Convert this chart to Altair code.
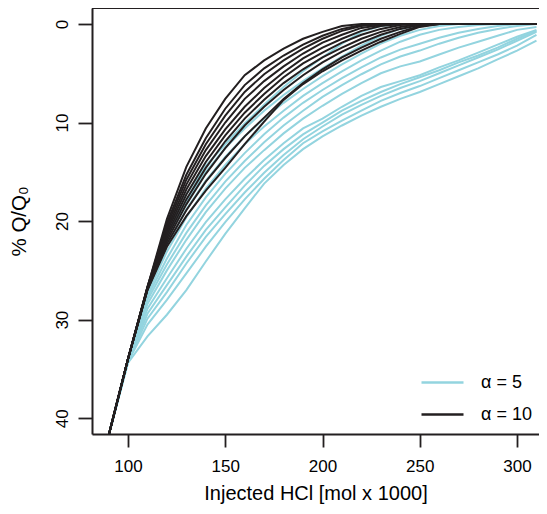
import altair as alt
import pandas as pd

# ---- data ----
x_grid = [90, 100, 110, 120, 130, 140, 150, 160, 170, 180, 190, 200,
          210, 220, 230, 240, 250, 260, 270, 280, 290, 300, 310]

black_curves = [
    [41.8, 34.0, 26.7, 19.8, 14.5, 10.6, 7.6, 5.2, 3.7, 2.5, 1.5, 0.8, 0.2, 0, 0, 0, 0, 0, 0, 0, 0, 0, 0],
    [41.8, 34.0, 26.7, 20.2, 15.3, 11.6, 8.6, 6.2, 4.5, 3.2, 2.1, 1.2, 0.5, 0.1, 0, 0, 0, 0, 0, 0, 0, 0, 0],
    [41.8, 34.0, 26.7, 20.5, 15.8, 12.2, 9.3, 6.9, 5.1, 3.7, 2.5, 1.5, 0.7, 0.2, 0, 0, 0, 0, 0, 0, 0, 0, 0],
    [41.8, 34.0, 26.8, 20.8, 16.3, 12.8, 10.0, 7.6, 5.8, 4.3, 3.0, 1.9, 1.1, 0.4, 0.1, 0, 0, 0, 0, 0, 0, 0, 0],
    [41.8, 34.0, 26.8, 21.1, 16.8, 13.4, 10.7, 8.4, 6.5, 4.9, 3.5, 2.4, 1.5, 0.7, 0.2, 0, 0, 0, 0, 0, 0, 0, 0],
    [41.8, 34.0, 26.8, 21.4, 17.3, 14.0, 11.3, 9.0, 7.1, 5.4, 4.0, 2.9, 1.9, 1.1, 0.5, 0.1, 0, 0, 0, 0, 0, 0, 0],
    [41.8, 34.0, 26.9, 21.7, 17.8, 14.6, 11.9, 9.6, 7.7, 6.0, 4.6, 3.4, 2.4, 1.5, 0.8, 0.3, 0, 0, 0, 0, 0, 0, 0],
    [41.8, 34.0, 26.9, 22.0, 18.3, 15.2, 12.6, 10.3, 8.4, 6.7, 5.2, 3.9, 2.8, 1.9, 1.1, 0.5, 0.1, 0, 0, 0, 0, 0, 0],
    [41.8, 34.0, 27.0, 22.3, 18.9, 16.0, 13.6, 11.4, 9.5, 7.6, 6.0, 4.6, 3.4, 2.4, 1.5, 0.8, 0.2, 0, 0, 0, 0, 0, 0],
    [41.8, 34.0, 27.0, 22.6, 19.5, 16.9, 14.6, 12.2, 9.9, 7.7, 6.1, 4.8, 3.7, 2.7, 1.8, 1.0, 0.3, 0, 0, 0, 0, 0, 0],
]

blue_curves = [
    [41.8, 34.0, 26.8, 21.4, 17.3, 14.4, 12.2, 10.1, 8.2, 6.4, 4.8, 3.4, 2.0, 0.8, 0.2, 0, 0, 0, 0, 0, 0, 0, 0],
    [41.8, 34.0, 26.9, 21.9, 18.0, 15.0, 12.6, 10.6, 8.8, 7.2, 5.8, 4.5, 3.3, 2.2, 1.2, 0.5, 0.1, 0, 0, 0, 0, 0, 0],
    [41.8, 34.0, 27.1, 22.5, 18.8, 15.9, 13.5, 11.4, 9.6, 8.0, 6.6, 5.3, 4.1, 3.0, 2.0, 1.2, 0.6, 0.2, 0, 0, 0, 0, 0],
    [41.8, 34.1, 27.4, 23.1, 19.6, 16.7, 14.3, 12.2, 10.4, 8.8, 7.3, 6.0, 4.8, 3.7, 2.7, 1.8, 1.1, 0.6, 0.3, 0.1, 0, 0, 0],
    [41.8, 34.1, 27.7, 23.8, 20.4, 17.6, 15.2, 13.1, 11.2, 9.5, 8.0, 6.7, 5.5, 4.4, 3.4, 2.6, 2.0, 1.4, 0.9, 0.5, 0.2, 0, 0],
    [41.8, 34.1, 28.0, 24.4, 21.2, 18.4, 16.0, 13.9, 12.0, 10.3, 8.8, 7.4, 6.2, 5.1, 4.1, 3.3, 2.7, 2.0, 1.4, 0.9, 0.5, 0.2, 0],
    [41.8, 34.2, 28.4, 25.0, 21.9, 19.1, 16.7, 14.6, 12.8, 11.1, 9.6, 8.3, 7.1, 6.0, 5.0, 4.3, 3.8, 3.1, 2.4, 1.8, 1.2, 0.6, 0.3],
    [41.8, 34.2, 28.9, 25.8, 22.8, 20.1, 17.8, 15.7, 13.8, 12.1, 10.6, 9.6, 8.4, 7.3, 6.4, 5.8, 5.2, 4.4, 3.7, 2.9, 2.1, 1.3, 0.6],
    [41.8, 34.2, 29.4, 26.5, 23.6, 20.9, 18.6, 16.4, 14.4, 12.7, 11.2, 10.0, 8.8, 7.8, 6.9, 6.1, 5.4, 4.7, 3.9, 3.2, 2.4, 1.5, 0.7],
    [41.8, 34.3, 29.9, 27.2, 24.3, 21.6, 19.3, 17.1, 15.1, 13.3, 11.7, 10.4, 9.2, 8.2, 7.3, 6.5, 5.8, 5.0, 4.2, 3.4, 2.6, 1.7, 0.8],
    [41.8, 34.3, 30.5, 28.0, 25.3, 22.6, 20.1, 17.8, 15.7, 13.8, 12.1, 10.9, 9.8, 8.8, 7.8, 7.0, 6.3, 5.5, 4.7, 3.9, 3.1, 2.2, 1.1],
    [41.8, 34.4, 31.7, 29.5, 27.0, 24.1, 21.3, 18.7, 16.2, 14.3, 12.7, 11.4, 10.3, 9.3, 8.4, 7.6, 6.9, 6.1, 5.3, 4.5, 3.6, 2.7, 1.7],
]

series_labels = ["α = 5", "α = 10"]
series_colors = ["#93D4DF", "#231F20"]
x_ticks = [100, 150, 200, 250, 300]
y_ticks = [0, 10, 20, 30, 40]

rows = []
for i, curve in enumerate(blue_curves):
    for x, y in zip(x_grid, curve):
        rows.append({"x": x, "y": y, "curve": f"a{i:02d}", "series": series_labels[0]})
for i, curve in enumerate(black_curves):
    for x, y in zip(x_grid, curve):
        rows.append({"x": x, "y": y, "curve": f"b{i:02d}", "series": series_labels[1]})
df = pd.DataFrame(rows)

FONT = "Liberation Sans"
INK = "#231F20"
W, H = 447, 426

lines = alt.Chart(df).mark_line(strokeWidth=2, clip=True).encode(
    x=alt.X("x:Q",
            scale=alt.Scale(domain=[81.5, 311.3], nice=False, zero=False),
            axis=alt.Axis(values=x_ticks, title="Injected HCl [mol x 1000]",
                          grid=False, tickSize=13, tickWidth=1.8, tickColor=INK,
                          domainWidth=2, domainColor=INK,
                          labelFontSize=17, labelPadding=11, labelColor="#000",
                          titleFontSize=20, titleFontWeight="normal",
                          titleColor="#000", titlePadding=9,
                          labelFont=FONT, titleFont=FONT)),
    y=alt.Y("y:Q",
            scale=alt.Scale(domain=[-1.62, 41.6], reverse=True, nice=False, zero=False),
            axis=alt.Axis(values=y_ticks, title="% Q/Q₀",
                          grid=False, tickSize=14, tickWidth=1.8, tickColor=INK,
                          domainWidth=2, domainColor=INK,
                          labelAngle=-90, labelAlign="center", labelBaseline="alphabetic",
                          labelFontSize=17, labelPadding=11, labelColor="#000",
                          titleFontSize=20.5, titleFontWeight="normal",
                          titleColor="#000", titlePadding=24,
                          labelFont=FONT, titleFont=FONT)),
    color=alt.Color("series:N",
                    scale=alt.Scale(domain=series_labels, range=series_colors),
                    legend=alt.Legend(title=None, orient="none", legendX=328, legendY=352,
                                      symbolType="stroke", symbolSize=1764,
                                      symbolStrokeWidth=2.5, labelFontSize=18,
                                      labelFont=FONT, labelColor="#000",
                                      labelOffset=16, rowPadding=-19, padding=0)),
    detail="curve:N",
)

top_border = alt.Chart(pd.DataFrame({"k": [0]})).mark_rule(
    color=INK, strokeWidth=2
).encode(x=alt.value(0), x2=alt.value(W), y=alt.value(0))

chart = alt.layer(lines, top_border).properties(
    width=W, height=H,
    autosize=alt.AutoSizeParams(type="none"),
    padding={"left": 84, "top": 0, "right": 0, "bottom": 72},
).configure_view(stroke=None).configure(background="white")

chart.save("out.html", embed_options={"renderer": "svg", "actions": False})
